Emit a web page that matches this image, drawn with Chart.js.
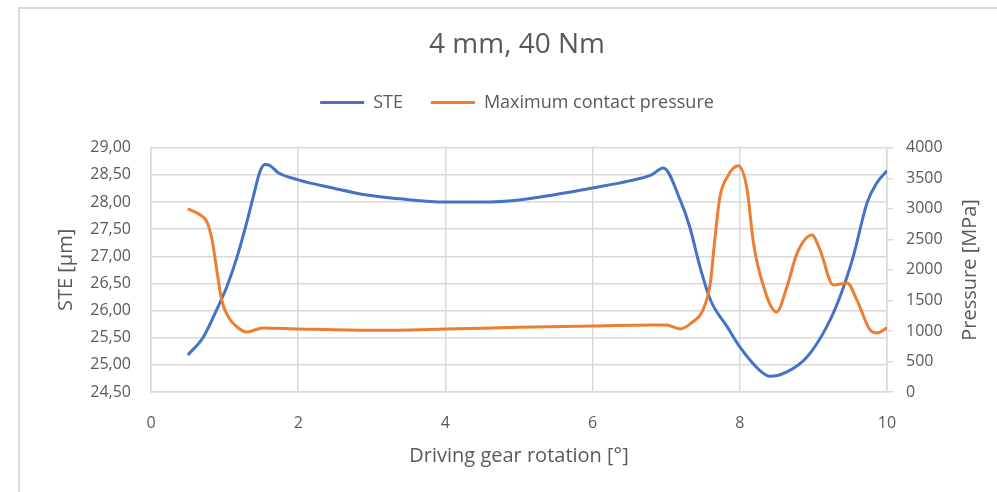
<!DOCTYPE html>
<html>
<head>
<meta charset="utf-8">
<script src="https://cdn.jsdelivr.net/npm/chart.js@4"></script>
<style>
html,body{margin:0;padding:0;background:#fff;}
#wrap{position:relative;width:997px;height:492px;}
#frame{position:absolute;left:18px;top:7px;right:0;bottom:0;border-left:2px solid #d9d9d9;border-top:2px solid #d9d9d9;pointer-events:none;}
canvas{position:absolute;left:0;top:0;}
</style>
</head>
<body>
<div id="wrap"><canvas id="c" width="997" height="492"></canvas><div id="frame"></div></div>
<script>
const titleText = "4 mm, 40 Nm";
const seriesNames = ["STE", "Maximum contact pressure"];
const xAxisTitle = "Driving gear rotation [°]";
const yLeftTitle = "STE [µm]";
const yRightTitle = "Pressure [MPa]";

const steX = [0.50,0.71,0.89,1.03,1.17,1.30,1.39,1.48,1.55,1.62,1.73,2.00,2.47,2.93,3.38,4.00,4.50,5.00,5.50,6.00,6.50,6.80,6.96,7.19,7.32,7.46,7.60,7.83,8.00,8.27,8.41,8.64,8.91,9.18,9.36,9.54,9.73,9.86,10.00];
const steY = [25.18,25.51,26.01,26.44,26.99,27.62,28.10,28.56,28.69,28.67,28.54,28.41,28.26,28.13,28.06,28.00,28.00,28.04,28.14,28.26,28.39,28.50,28.63,28.04,27.54,26.80,26.20,25.70,25.33,24.90,24.79,24.87,25.14,25.70,26.25,26.99,27.99,28.35,28.58];

const presX = [0.50,0.67,0.76,0.83,0.90,0.96,1.05,1.17,1.30,1.52,2.00,3.00,4.00,5.00,6.00,6.80,7.00,7.19,7.36,7.50,7.60,7.66,7.73,7.83,7.98,8.10,8.18,8.27,8.50,8.64,8.78,8.98,9.09,9.27,9.46,9.59,9.77,9.86,10.00];
const presY = [3000,2900,2786,2490,1950,1508,1230,1065,983,1049,1033,1010,1030,1060,1080,1098,1098,1033,1147,1344,1787,2491,3196,3524,3704,3311,2491,1950,1311,1721,2278,2573,2327,1754,1787,1508,1016,967,1049];

const xTicks = {min:0, max:10, step:2};
const yLeftTicks = {min:24.5, max:29, step:0.5};
const yRightTicks = {min:0, max:4000, step:500};

const colors = ["#4472C4", "#ED7D31"];
const FONT = "Open Sans";
const TXT = "#595959";
const GRID = "#d9d9d9";

function pts(xs, ys){ return xs.map((x,i)=>({x:x, y:ys[i]})); }

const rightTitlePlugin = {
  id: 'rightTitle',
  afterDraw(chart){
    const s = chart.scales.y1;
    const ctx = chart.ctx;
    ctx.save();
    ctx.translate(s.right - 10, (s.top + s.bottom) / 2);
    ctx.rotate(-Math.PI / 2);
    ctx.font = '20px "' + FONT + '"';
    ctx.fillStyle = TXT;
    ctx.textAlign = 'center';
    ctx.textBaseline = 'middle';
    ctx.fillText(yRightTitle, 0, 0);
    ctx.restore();
  }
};

new Chart(document.getElementById('c'), {
  type: 'line',
  data: {
    datasets: [
      {label: seriesNames[0], data: pts(steX, steY), yAxisID: 'y', borderColor: colors[0], backgroundColor: colors[0], borderWidth: 3, pointRadius: 0, cubicInterpolationMode: 'monotone', order: 1},
      {label: seriesNames[1], data: pts(presX, presY), yAxisID: 'y1', borderColor: colors[1], backgroundColor: colors[1], borderWidth: 3, pointRadius: 0, cubicInterpolationMode: 'monotone', order: 0}
    ]
  },
  plugins: [rightTitlePlugin],
  options: {
    responsive: false,
    animation: false,
    layout: {padding: {left: 54, right: 17, top: 0, bottom: 24}},
    plugins: {
      tooltip: {enabled: false},
      title: {display: true, text: titleText, color: TXT, font: {family: FONT, size: 28, weight: 'normal'}, padding: {top: 28, bottom: 4}},
      subtitle: {display: true, text: ' ', weight: 500, font: {size: 1}, padding: {top: 0, bottom: 25}},
      legend: {
        display: true,
        labels: {
          color: TXT, font: {family: FONT, size: 18}, boxWidth: 44, boxHeight: 3, padding: 28,
          generateLabels: (chart) => chart.data.datasets.map((d,i)=>({text: d.label, fillStyle: d.borderColor, strokeStyle: d.borderColor, lineWidth: 0, hidden: false, datasetIndex: i, fontColor: TXT}))
        }
      }
    },
    scales: {
      x: {
        type: 'linear', min: xTicks.min, max: xTicks.max,
        ticks: {stepSize: xTicks.step, color: TXT, font: {family: FONT, size: 16}, padding: 22},
        grid: {color: GRID, lineWidth: 1.5, drawTicks: false},
        border: {color: GRID, width: 1.5},
        title: {display: true, text: xAxisTitle, color: TXT, font: {family: FONT, size: 20}, padding: {top: 0, bottom: 0}},
        afterFit: (s) => { s.height = 76; }
      },
      y: {
        type: 'linear', position: 'left', min: yLeftTicks.min, max: yLeftTicks.max,
        ticks: {stepSize: yLeftTicks.step, color: TXT, font: {family: FONT, size: 16}, padding: 20,
          callback: (v) => v.toFixed(2).replace('.', ',')},
        grid: {color: GRID, lineWidth: 1.5, drawTicks: false},
        border: {color: GRID, width: 1.5},
        title: {display: true, text: yLeftTitle, color: TXT, font: {family: FONT, size: 20}, padding: {top: 0, bottom: 0}},
        afterFit: (s) => { s.width = 97; }
      },
      y1: {
        type: 'linear', position: 'right', min: yRightTicks.min, max: yRightTicks.max,
        ticks: {stepSize: yRightTicks.step, color: TXT, font: {family: FONT, size: 16}, padding: 13,
          callback: (v) => String(v)},
        grid: {color: GRID, lineWidth: 1.5, drawOnChartArea: false, drawTicks: true, tickLength: 6},
        border: {color: GRID, width: 1.5},
        title: {display: false},
        afterFit: (s) => { s.width = 93; }
      }
    }
  }
});
</script>
</body>
</html>
